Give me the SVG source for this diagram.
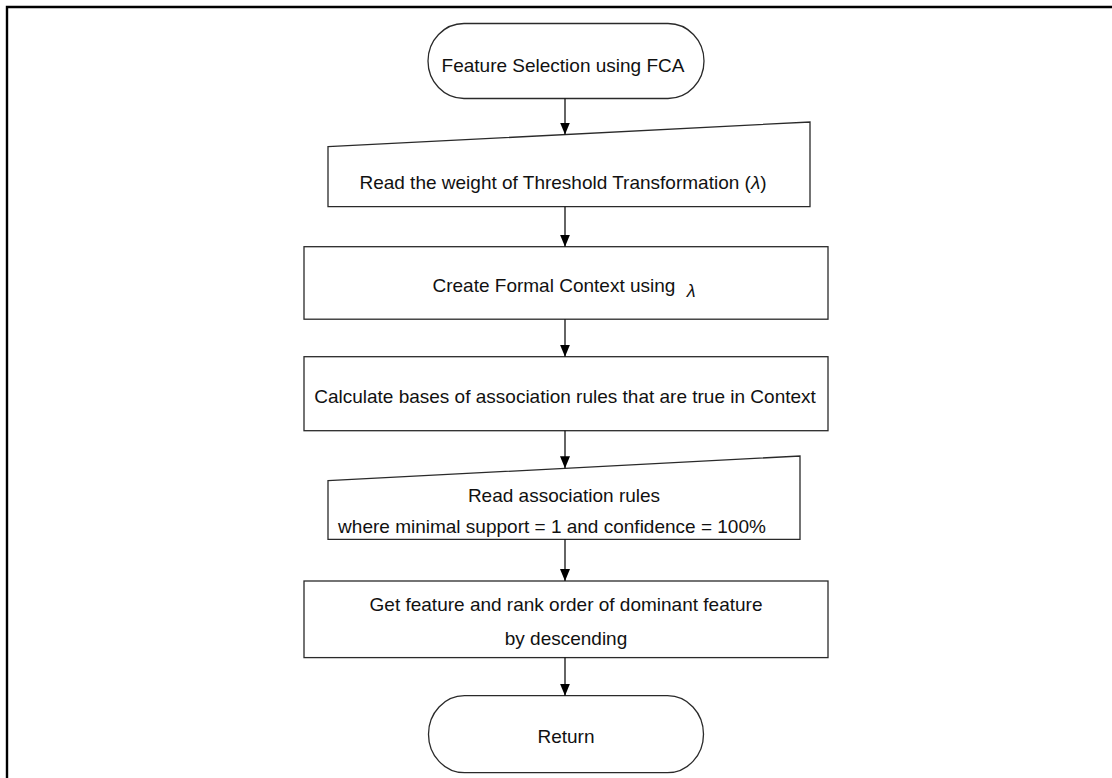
<svg xmlns="http://www.w3.org/2000/svg" width="1112" height="778" viewBox="0 0 1112 778">
  <defs>
    <marker id="arrow" viewBox="0 0 12 10" refX="12" refY="5" markerWidth="12" markerHeight="10" markerUnits="userSpaceOnUse" orient="auto">
      <path d="M0,0 L12,5 L0,10 Z" fill="#000"/>
    </marker>
    <style>
      .shape { fill: #fff; stroke: #2a2a2a; stroke-width: 1.3; }
      .label { font-family: "Liberation Sans", Arial, sans-serif; font-size: 19px; fill: #111; text-anchor: middle; }
      .greek { font-family: "Liberation Sans", Arial, sans-serif; font-style: italic; }
      .conn { stroke: #111; stroke-width: 1.3; fill: none; marker-end: url(#arrow); }
      .frame { stroke: #000; stroke-width: 2.4; fill: none; }
    </style>
  </defs>

  <rect width="1112" height="778" fill="#fff"/>
  <!-- page border (only top and left edges fall inside the canvas) -->
  <path class="frame" d="M7,790 L7,7 L1120,7"/>

  <g id="start">
    <rect class="shape" x="428" y="23.5" width="276" height="75" rx="36" ry="37.5"/>
    <text class="label" x="563" y="72">Feature Selection using FCA</text>
  </g>

  <g id="read-weight">
    <path class="shape" d="M328,146.7 L810,122 L810,206.7 L328,206.7 Z"/>
    <text class="label" x="563" y="189">Read the weight of Threshold Transformation (<tspan class="greek">λ</tspan>)</text>
  </g>

  <g id="create-context">
    <rect class="shape" x="304" y="246.7" width="524" height="72.5"/>
    <text class="label" x="564" y="292">Create Formal Context using <tspan class="greek" font-size="18" dy="5" dx="6">λ</tspan></text>
  </g>

  <g id="calculate-bases">
    <rect class="shape" x="304" y="356.7" width="524" height="74"/>
    <text class="label" x="565" y="403">Calculate bases of association rules that are true in Context</text>
  </g>

  <g id="read-rules">
    <path class="shape" d="M328,480.7 L800,456 L800,539.3 L328,539.3 Z"/>
    <text class="label" x="564" y="501.5">Read association rules</text>
    <text class="label" x="552" y="533">where minimal support = 1 and confidence = 100%</text>
  </g>

  <g id="rank-features">
    <rect class="shape" x="304" y="581" width="524" height="76.6"/>
    <text class="label" x="566" y="611">Get feature and rank order of dominant feature</text>
    <text class="label" x="566" y="645">by descending</text>
  </g>

  <g id="return">
    <rect class="shape" x="428.5" y="695.7" width="275" height="77" rx="36" ry="38.5"/>
    <text class="label" x="566" y="743">Return</text>
  </g>

  <g id="connectors">
    <line class="conn" x1="565" y1="98.5" x2="565" y2="134.5"/>
    <line class="conn" x1="565" y1="206.7" x2="565" y2="246.7"/>
    <line class="conn" x1="565" y1="319.2" x2="565" y2="356.7"/>
    <line class="conn" x1="565" y1="430.7" x2="565" y2="468.3"/>
    <line class="conn" x1="565" y1="539.3" x2="565" y2="581"/>
    <line class="conn" x1="565" y1="657.6" x2="565" y2="695.7"/>
  </g>
</svg>
